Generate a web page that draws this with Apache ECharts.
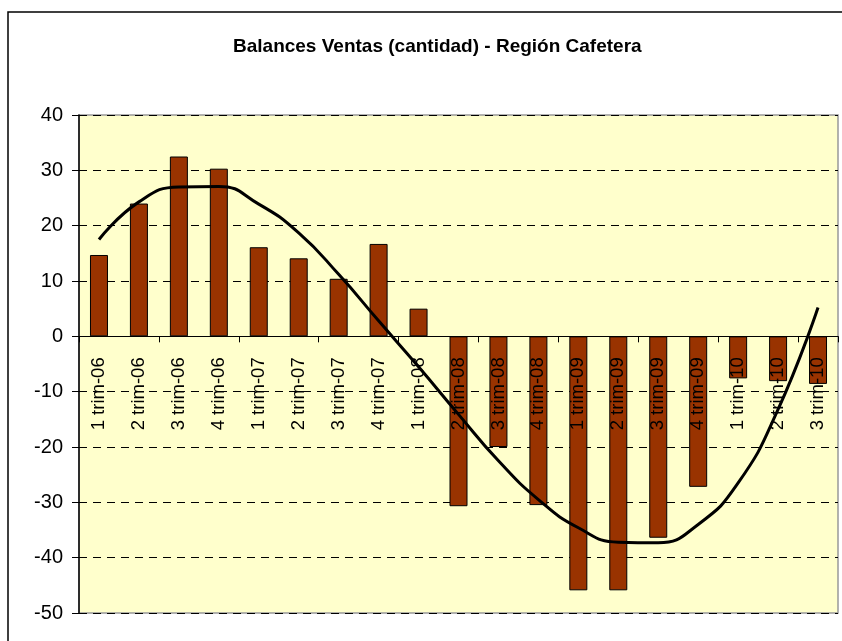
<!DOCTYPE html>
<html lang="es">
<head>
    <meta charset="UTF-8">
    <title>Balances Ventas</title>
    <style>
        html, body { margin: 0; padding: 0; background: #fff; }
        #container { width: 842px; height: 641px; }
    </style>
</head>
<body>
<div id="container"></div>
<script src="https://cdn.jsdelivr.net/npm/echarts@6/dist/echarts.min.js"></script>
<script type="text/javascript">
    var categorias = ['1 trim-06', '2 trim-06', '3 trim-06', '4 trim-06',
        '1 trim-07', '2 trim-07', '3 trim-07', '4 trim-07',
        '1 trim-08', '2 trim-08', '3 trim-08', '4 trim-08',
        '1 trim-09', '2 trim-09', '3 trim-09', '4 trim-09',
        '1 trim-10', '2 trim-10', '3 trim-10'];
    var balances = [14.7, 24.0, 32.5, 30.3, 16.1, 14.1, 10.4, 16.7, 5.0,
        -30.7, -20.0, -30.5, -45.9, -45.9, -36.4, -27.2, -7.6, -8.1, -8.6];
    // tendencia (polinomica)
    var tendencia = [17.5, 24.3, 27.0, 27.1, 23.9, 18.7, 11.2, 2.8, -5.5,
        -14.1, -22.5, -29.5, -34.6, -37.2, -37.3, -34.0, -26.5, -13.2, 5.2];
    var yTicks = { min: -50, max: 40, interval: 10 };

    var fuente = 'Arial, "Liberation Sans", sans-serif';
    var gridTop = 115, gridBottom = 28, alto = 641;
    // los rotulos de categoria van sobre la linea del cero
    var yCero = gridTop + (alto - gridTop - gridBottom) * yTicks.max / (yTicks.max - yTicks.min);
    var desplazamiento = -((alto - gridBottom) - yCero);

    var chart = echarts.init(document.getElementById('container'));
    var option = {
        animation: false,
        title: {
            text: 'Balances Ventas (cantidad) - Región Cafetera',
            left: 228,
            top: 32,
            textStyle: { fontFamily: fuente, fontSize: 19, fontWeight: 'bold', color: '#000' }
        },
        graphic: [{
            type: 'rect',
            shape: { x: 8, y: 12, width: 900, height: 700 },
            style: { fill: 'none', stroke: '#000', lineWidth: 1.5 },
            silent: true
        }],
        grid: {
            left: 79, right: 4, top: gridTop, bottom: gridBottom,
            containLabel: false,
            outerBoundsMode: 'none',
            show: true,
            backgroundColor: '#FFFFCC',
            borderColor: '#999',
            borderWidth: 1.5
        },
        xAxis: [
            {
                type: 'category',
                data: categorias,
                z: 3,
                axisLine: { onZero: true, lineStyle: { color: '#000', width: 1 } },
                axisTick: { show: true, length: 6, lineStyle: { color: '#000' } },
                axisLabel: { show: false }
            },
            {
                type: 'category',
                data: categorias,
                position: 'bottom',
                offset: desplazamiento,
                z: 4,
                axisLine: { show: false, onZero: false },
                axisTick: { show: false },
                axisLabel: { rotate: 90, margin: 21, interval: 0, color: '#000', fontFamily: fuente, fontSize: 18.5 }
            }
        ],
        yAxis: {
            type: 'value',
            min: yTicks.min,
            max: yTicks.max,
            interval: yTicks.interval,
            axisLine: { show: true, lineStyle: { color: '#000', width: 1.5 } },
            axisTick: { show: true, length: 7, lineStyle: { color: '#000' } },
            axisLabel: { margin: 16, color: '#000', fontFamily: fuente, fontSize: 20 },
            splitLine: { show: true, lineStyle: { color: '#000', type: [8, 6], width: 1 } }
        },
        series: [
            {
                name: 'Balance',
                type: 'bar',
                data: balances,
                barWidth: 18,
                z: 2,
                itemStyle: { color: '#993300', borderColor: '#000', borderWidth: 1 }
            },
            {
                name: 'Tendencia',
                type: 'line',
                data: tendencia,
                smooth: true,
                symbol: 'none',
                z: 5,
                lineStyle: { color: '#000', width: 3 }
            }
        ]
    };
    chart.setOption(option);
</script>
</body>
</html>
